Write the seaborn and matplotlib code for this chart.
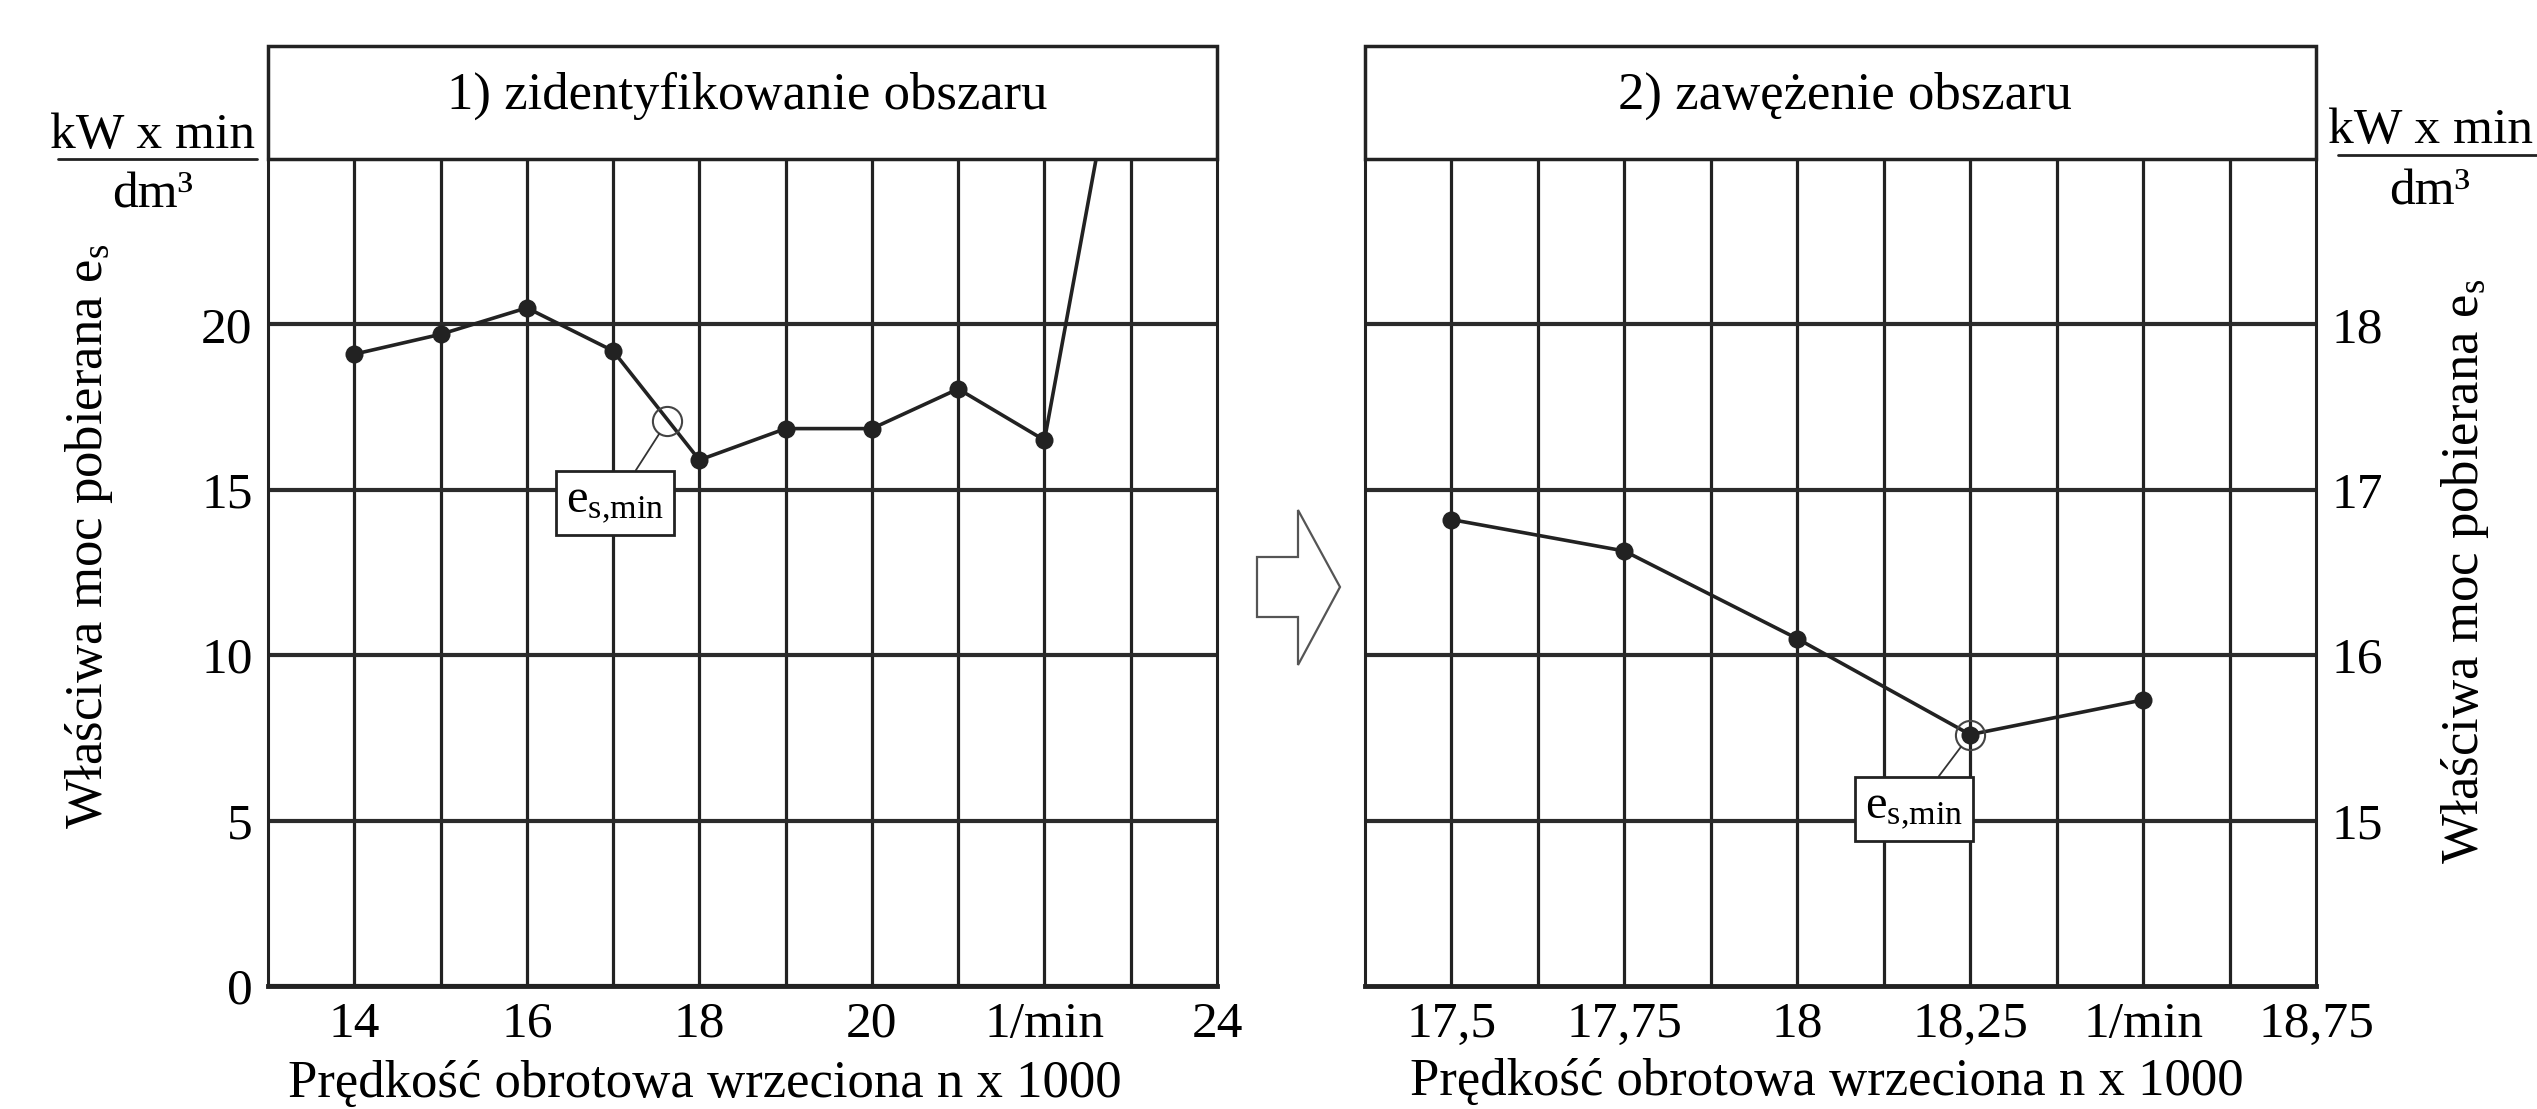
import numpy as np
import matplotlib
matplotlib.use("Agg")
import matplotlib.pyplot as plt
import seaborn as sns
from matplotlib.patches import Rectangle, Polygon
from matplotlib.lines import Line2D

# data
left_speed = [14, 15, 16, 17, 18, 19, 20, 21, 22, 23]
left_es = [19.1, 19.7, 20.5, 19.2, 15.9, 16.85, 16.85, 18.05, 16.5, 30.7]
left_min = (17.63, 17.08)
left_xticks = [14, 16, 18, 20, 22, 24]
left_xlabels = ["14", "16", "18", "20", "1/min", "24"]
left_yticks = [0, 5, 10, 15, 20]

right_speed = [17.5, 17.75, 18.0, 18.25, 18.5]
right_es = [16.82, 16.63, 16.1, 15.52, 15.73]
right_min = (18.25, 15.52)
right_xticks = [17.5, 17.75, 18.0, 18.25, 18.5, 18.75]
right_xlabels = ["17,5", "17,75", "18", "18,25", "1/min", "18,75"]
right_yticks = [15, 16, 17, 18]

titles = ["1) zidentyfikowanie obszaru", "2) zawężenie obszaru"]
xlabel = "Prędkość obrotowa wrzeciona n x 1000"
ylabel = r"Właściwa moc pobierana $\mathregular{e_s}$"
min_label = r"$\mathregular{e_{s{,}min}}$"

FONT = 'Liberation Serif'
sns.set_style("white")
plt.rcParams['font.family'] = 'serif'
plt.rcParams['font.serif'] = [FONT, 'DejaVu Serif']
plt.rcParams['mathtext.fontset'] = 'custom'
plt.rcParams['mathtext.rm'] = FONT
plt.rcParams['mathtext.it'] = FONT + ':italic'

W, H = 2537, 1109
fig = plt.figure(figsize=(W / 100, H / 100), dpi=100)

def fx(x):
    return x / W

def fy(y):
    return 1 - y / H

ink = '#222222'
txt_c = '#000000'
ax1 = fig.add_axes([fx(268), fy(986), fx(1217) - fx(268), fy(159) - fy(986)])
ax2 = fig.add_axes([fx(1365), fy(986), fx(2316) - fx(1365), fy(159) - fy(986)])


def style_axes(ax, xlim, ylim, xgrid, xticks, xlabels, yticks, title, right=False):
    ax.set_xlim(*xlim)
    ax.set_ylim(*ylim)
    ax.set_xticks(xticks)
    ax.set_xticklabels(xlabels)
    ax.set_yticks(yticks)
    ax.grid(False)
    for x in xgrid:
        ax.axvline(x, color=ink, lw=2.3, zorder=1)
    for y in yticks:
        ax.axhline(y, color='#2b2b2b', lw=3.0, zorder=1)
    ax.tick_params(axis='both', which='both', length=0, labelsize=37, pad=11,
                   colors=txt_c)
    if right:
        ax.yaxis.tick_right()
    for lbl in ax.get_xticklabels() + ax.get_yticklabels():
        lbl.set_family(FONT)
    for side in ['left', 'right']:
        ax.spines[side].set_color(ink)
        ax.spines[side].set_linewidth(2.2)
    ax.spines['bottom'].set_color(ink)
    ax.spines['bottom'].set_linewidth(3.5)
    ax.spines['top'].set_visible(False)
    # title box on top of the axes
    box_h = (986 - 46) / (986 - 159) - 1
    ax.add_patch(Rectangle((0, 1), 1, box_h, transform=ax.transAxes, clip_on=False,
                           facecolor='white', edgecolor=ink, lw=2.5, zorder=5))
    ax.text(0.505, 1.076, title, transform=ax.transAxes, ha='center', va='center',
            fontsize=38, color=txt_c, family=FONT, zorder=6)


style_axes(ax1, (13, 24), (0, 25), np.arange(14, 24, 1), left_xticks, left_xlabels,
           left_yticks, titles[0])
style_axes(ax2, (17.375, 18.75), (14, 19), np.arange(17.5, 18.7, 0.125), right_xticks,
           right_xlabels, right_yticks, titles[1], right=True)

# data lines
sns.lineplot(x=left_speed, y=left_es, ax=ax1, color=ink, lw=2.6, marker='o',
             markersize=13, markeredgewidth=0, estimator=None, sort=False, zorder=3)
sns.lineplot(x=right_speed, y=right_es, ax=ax2, color=ink, lw=2.6, marker='o',
             markersize=13, markeredgewidth=0, estimator=None, sort=False, zorder=3)

# e_s,min markers and labels
for ax, pt, txt_xy in [(ax1, left_min, (17.02, 14.6)), (ax2, right_min, (18.169, 15.07))]:
    ax.plot([pt[0]], [pt[1]], marker='o', markersize=21, markerfacecolor='none',
            markeredgecolor='#444444', markeredgewidth=1.5, zorder=4)
    ax.annotate(min_label, xy=pt, xytext=txt_xy,
                ha='center', va='center', fontsize=35, color=txt_c, family=FONT, zorder=6,
                bbox=dict(boxstyle='square,pad=0.2', fc='white', ec=ink, lw=2),
                arrowprops=dict(arrowstyle='-', color='#333333', lw=1.3,
                                shrinkA=0, shrinkB=11))

# units
for cx, base1, liney, lx0, lx1, base2 in [(153, 148, 159, 58, 257, 207),
                                         (2430, 143, 155, 2338, 2537, 204)]:
    fig.text(fx(cx), fy(base1), "kW x min", ha='center', va='baseline', fontsize=37,
             color=txt_c, family=FONT)
    fig.add_artist(Line2D([fx(lx0), fx(lx1)], [fy(liney), fy(liney)], color=ink, lw=2,
                          transform=fig.transFigure))
    fig.text(fx(cx), fy(base2), "dm³", ha='center', va='baseline', fontsize=37,
             color=txt_c, family=FONT)

# axis labels
fig.text(fx(89), fy(536), ylabel, rotation=90, ha='center', va='center', fontsize=38,
         color=txt_c, family=FONT)
fig.text(fx(2465), fy(571), ylabel, rotation=90, ha='center', va='center', fontsize=38,
         color=txt_c, family=FONT)
fig.text(fx(705), fy(1084), xlabel, ha='center', va='center', fontsize=38, color=txt_c,
         family=FONT)
fig.text(fx(1827), fy(1082), xlabel, ha='center', va='center', fontsize=38, color=txt_c,
         family=FONT)

# hollow arrow between the panels
arrow = [(1257, 557), (1298, 557), (1298, 510), (1340, 587), (1298, 665), (1298, 617),
         (1257, 617)]
fig.add_artist(Polygon([(fx(x), fy(y)) for x, y in arrow], closed=True,
                       transform=fig.transFigure, facecolor='white', edgecolor='#555555',
                       lw=1.6))

fig.savefig('out.png', dpi=100, facecolor='white')
